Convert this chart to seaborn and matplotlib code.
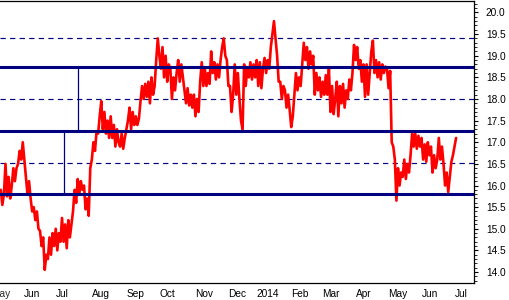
import numpy as np
import pandas as pd
import matplotlib
matplotlib.use("Agg")
import matplotlib.pyplot as plt
import matplotlib.transforms as mtrans
from matplotlib.ticker import MultipleLocator, FixedLocator, FormatStrFormatter
import seaborn as sns

# ---- data (one value per trading day) ----
price = [
    15.9, 15.55, 15.8, 16.5, 15.75, 16.2, 15.7, 16.0, 16.4, 16.1, 16.4,
    16.5, 16.8, 16.6, 17.0, 16.6, 16.2, 15.8, 16.1, 15.7, 15.4,
    15.5, 15.2, 15.4, 15.0, 14.95, 14.6, 14.8, 14.05, 14.4,
    14.3, 14.8, 14.4, 14.9, 14.6, 15.0, 14.5, 14.9, 14.7,
    15.25, 14.7, 15.1, 14.55, 15.2, 14.8, 15.1, 15.4, 15.9, 15.6,
    16.15, 15.8, 16.1, 15.9, 16.0, 15.45, 15.7, 15.3, 16.4, 16.6,
    17.0, 16.8, 17.25,
    17.2, 17.6, 17.95, 17.3, 17.7, 17.2, 17.5, 17.1,
    17.6, 17.1, 17.4, 16.9, 17.3, 17.0,
    16.9, 17.2, 16.85, 17.1, 17.3,
    17.5, 17.8, 17.3, 17.7, 17.4, 17.6,
    17.4, 17.55, 17.95,
    18.3, 18.0, 18.35, 18.05,
    18.4, 17.9, 18.5, 18.1, 18.3,
    18.9, 19.4, 19.0,
    18.7, 19.2, 18.5, 19.0, 18.4, 18.8,
    18.7, 18.0, 18.5, 18.2, 18.6,
    18.9, 18.4, 18.8, 18.5,
    18.2, 17.9, 18.25, 17.85, 18.1, 17.8,
    18.1, 17.6, 18.0, 17.7,
    18.4, 18.85, 18.3,
    18.7, 18.3, 18.6, 18.35,
    19.1, 18.6,
    18.85, 18.45, 18.8, 18.5,
    18.9, 19.2, 19.4, 19.0,
    18.9, 18.3, 18.3, 17.7, 18.1,
    18.8, 18.1, 18.6, 18.0, 17.5, 17.3,
    18.8, 18.3, 18.7,
    18.5, 18.85, 18.45, 18.8, 18.5, 18.9,
    18.3, 18.85, 18.25, 18.7,
    18.95, 18.6, 18.9, 18.7,
    19.2, 19.5, 19.8, 19.4,
    19.0, 18.4, 18.4, 18.0, 18.3,
    18.2, 17.8, 18.1, 17.75, 17.35, 17.6,
    18.1, 18.6, 18.2, 18.5, 18.3,
    18.8, 19.3, 18.9, 19.2,
    18.7, 19.1, 18.8, 19.0,
    18.1, 18.6, 18.2,
    18.5, 18.05, 18.4, 18.1, 18.55, 18.1,
    18.7, 17.7, 18.3, 17.65, 18.0, 18.4,
    17.6, 18.3, 17.9, 18.35, 17.8, 18.2,
    18.0, 18.45, 18.2,
    18.6, 19.25, 18.9, 19.2, 18.7,
    18.9, 18.4, 18.8,
    18.05, 18.8, 18.1, 18.6,
    19.1, 19.35, 18.6,
    18.9, 18.5, 18.85, 18.45, 18.8, 18.6, 18.75,
    18.7, 18.25, 18.65,
    17.0, 16.9, 16.6, 15.65,
    16.4, 16.0, 16.3,
    16.2, 16.6, 16.15, 16.5, 16.3,
    16.7, 17.2,
    16.9, 17.2, 16.85, 17.15, 16.9, 17.1,
    16.6, 16.95, 16.55,
    17.0, 16.7, 16.9,
    16.3, 16.7, 16.4, 16.6,
    17.1, 16.6, 16.9,
    16.5, 16.0, 16.3, 15.85,
    16.2, 16.55,
    16.7, 16.9, 17.1,
]
first_day = "2013-05-14"
thick_levels = [18.73, 17.25, 15.80]
dashed_levels = [19.40, 18.00, 16.53]
vert_dates = ["2013-07-09", "2013-07-22"]
vert_lows = [15.80, 17.25]
vert_highs = [17.25, 18.73]
holidays = ["2013-12-24", "2013-12-25", "2013-12-26", "2013-12-31",
            "2014-01-01", "2014-04-18", "2014-05-01"]
month_names = ["Jan", "Feb", "Mar", "Apr", "May", "Jun",
               "Jul", "Aug", "Sep", "Oct", "Nov", "Dec"]
y_ticks = [14.0, 14.5, 15.0, 15.5, 16.0, 16.5, 17.0, 17.5, 18.0, 18.5, 19.0, 19.5, 20.0]

# ---- trading calendar ----
days = pd.bdate_range("2013-05-01", "2014-08-15")
days = days[~days.isin(pd.to_datetime(holidays))]
pos = pd.Series(np.arange(len(days)), index=days)
i0 = pos[pd.Timestamp(first_day)]
data_days = days[days >= pd.Timestamp(first_day)][:len(price)]
df = pd.DataFrame({"day": pos[data_days].values, "price": price})

month_first = pos.groupby([days.year, days.month]).first()
month_pos = list(month_first.values)
month_lbl = [str(y) if m == 1 else month_names[m - 1] for (y, m) in month_first.index]
mondays = list(pos[days.weekday == 0].values)

# ---- figure ----
sns.set_style("white")
plt.rcParams["font.family"] = ["Liberation Sans", "DejaVu Sans"]

W, H = 510, 300
fig = plt.figure(figsize=(W / 100, H / 100), dpi=100)
ax = fig.add_axes([0, 1 - 283 / H, 474 / W, (283 - 0.5) / H])

navy = "#000080"
for lv in thick_levels:
    ax.axhline(lv, color=navy, lw=2.2, zorder=3)
for lv in dashed_levels:
    ax.axhline(lv, color=navy, lw=0.85, ls=(0, (4.5, 3.6)), zorder=1)
for d, lo, hi in zip(vert_dates, vert_lows, vert_highs):
    ax.vlines(pos[pd.Timestamp(d)], lo, hi, color=navy, lw=0.9, zorder=1)

sns.lineplot(data=df, x="day", y="price", color="#ff0000", lw=1.9, ax=ax, zorder=2)

left = i0 - 0.5
ax.set_xlim(left, left + 474 / 1.57)
ax.set_ylim(14.0 - 11 / 43.33, 20.0 + 12 / 43.33)
ax.set_xlabel("")
ax.set_ylabel("")

# spines
for s in ["top", "right", "bottom"]:
    ax.spines[s].set_visible(True)
    ax.spines[s].set_color("black")
    ax.spines[s].set_linewidth(0.9)
ax.spines["left"].set_visible(False)

# y axis on the right
ax.yaxis.tick_right()
ax.yaxis.set_major_locator(FixedLocator(y_ticks))
ax.yaxis.set_major_formatter(FormatStrFormatter("%.1f"))
ax.yaxis.set_minor_locator(MultipleLocator(0.1))
ax.tick_params(axis="y", which="major", direction="out", length=3, width=0.8,
               pad=5.5, labelsize=7.3, colors="black", left=False, right=True)
ax.tick_params(axis="y", which="minor", direction="out", length=1.8, width=0.7,
               left=False, right=True)

# x axis: months
ax.xaxis.set_major_locator(FixedLocator(month_pos))
ax.set_xticklabels(month_lbl)
ax.xaxis.set_minor_locator(FixedLocator(mondays))
ax.tick_params(axis="x", which="major", direction="out", length=13, width=0.8,
               pad=-8.8, labelsize=7.3, colors="black")
ax.tick_params(axis="x", which="minor", direction="out", length=3, width=0.7)
off = mtrans.ScaledTranslation(1.5 / 100, 0, fig.dpi_scale_trans)
for lbl in ax.get_xticklabels():
    lbl.set_horizontalalignment("left")
    lbl.set_transform(lbl.get_transform() + off)

# "May" label whose tick lies left of the visible range (cut by the edge, as in the reference)
may_x = pos[pd.Timestamp("2013-05-01")] + 2
may_off = mtrans.ScaledTranslation(1.5 / 100, -4.2 / 72, fig.dpi_scale_trans)
ax.text(may_x, 0, "May",
        transform=mtrans.blended_transform_factory(ax.transData, ax.transAxes) + may_off,
        ha="left", va="top", fontsize=7.3, clip_on=False)

ax.grid(False)
fig.savefig("out.png", dpi=100)
